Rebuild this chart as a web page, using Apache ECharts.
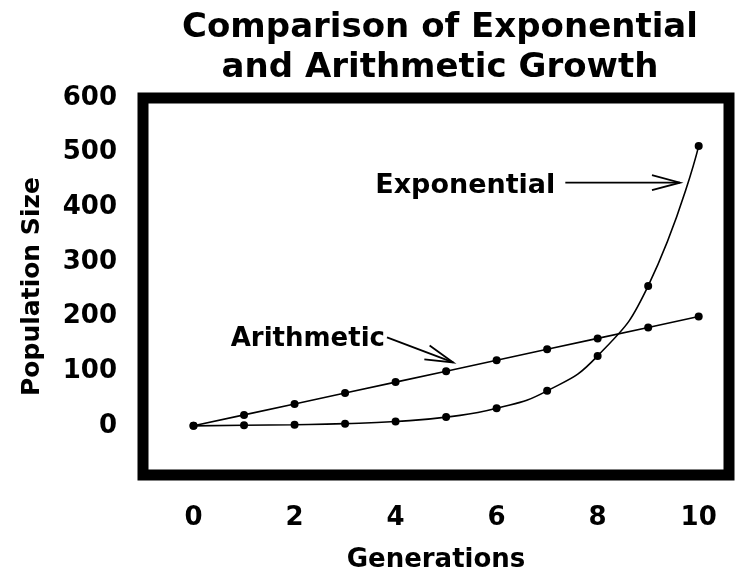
<!DOCTYPE html>
<html>
<head>
<meta charset="utf-8">
<script src="https://cdn.jsdelivr.net/npm/echarts@6/dist/echarts.min.js"></script>
<style>html,body{margin:0;padding:0;background:#fff}#c{width:740px;height:578px}</style>
</head>
<body>
<div id="c"></div>
<script>
var generations = [0,1,2,3,4,5,6,7,8,9,10];
var exponential = [0,1,2,4,8,16,32,64,128,256,512];
var arithmetic = [0,20,40,60,80,100,120,140,160,180,200];
var xTicks = [0,2,4,6,8,10];
var yTicks = [0,100,200,300,400,500,600];
// annotation anchors in data space: arrow start, arrow tip
var expoArrow = [[7.36,445],[9.63,445]];
var arithArrow = [[3.83,162],[5.14,116]];

var F = '"DejaVu Sans", sans-serif';
var chart = echarts.init(document.getElementById('c'), null, {renderer:'canvas'});
function pairs(xs, ys){ return xs.map(function(x,i){return [x, ys[i]];}); }

chart.setOption({
  animation:false,
  title:{
    text:'Comparison of Exponential\nand Arithmetic Growth',
    left:440, top:8, textAlign:'center', padding:0,
    textStyle:{fontFamily:F, fontWeight:'bold', fontSize:34, lineHeight:40, color:'#000'}
  },
  grid:{left:143, right:11, top:98, bottom:102, show:true, borderWidth:11, borderColor:'#000', backgroundColor:'transparent'},
  xAxis:{
    type:'value', min:-1, max:10.6,
    name:'Generations', nameLocation:'middle', nameGap:72,
    nameTextStyle:{fontFamily:F, fontWeight:'bold', fontSize:26, color:'#000'},
    axisLine:{show:false}, axisTick:{show:false}, splitLine:{show:false},
    axisLabel:{customValues:xTicks, margin:30, fontFamily:F, fontWeight:'bold', fontSize:26, color:'#000'}
  },
  yAxis:{
    type:'value', min:-90, max:600,
    name:'Population Size', nameLocation:'middle', nameGap:98, nameRotate:90,
    nameTextStyle:{fontFamily:F, fontWeight:'bold', fontSize:25, color:'#000'},
    axisLine:{show:false}, axisTick:{show:false}, splitLine:{show:false},
    axisLabel:{customValues:yTicks, margin:26, fontFamily:F, fontWeight:'bold', fontSize:26, color:'#000'}
  },
  series:[
    {name:'Exponential', type:'line', data:pairs(generations, exponential), smooth:0.5,
     symbol:'circle', symbolSize:8, itemStyle:{color:'#000'}, lineStyle:{color:'#000', width:1.6}},
    {name:'Arithmetic', type:'line', data:pairs(generations, arithmetic),
     symbol:'circle', symbolSize:8, itemStyle:{color:'#000'}, lineStyle:{color:'#000', width:1.6}}
  ]
});

function px(p){ return chart.convertToPixel({gridIndex:0}, p); }
function arrow(a){
  var s = px(a[0]), e = px(a[1]);
  var ang = Math.atan2(e[1]-s[1], e[0]-s[0]);
  var L = 29, w = 0.26;
  var w1 = [e[0]-L*Math.cos(ang-w), e[1]-L*Math.sin(ang-w)];
  var w2 = [e[0]-L*Math.cos(ang+w), e[1]-L*Math.sin(ang+w)];
  return [
    {type:'line', shape:{x1:s[0],y1:s[1],x2:e[0],y2:e[1]}, style:{stroke:'#000', lineWidth:1.8}},
    {type:'polyline', shape:{points:[w1,e,w2]}, style:{stroke:'#000', lineWidth:1.8, fill:null}}
  ];
}
var es = px(expoArrow[0]), as = px(arithArrow[0]);
var g = [].concat(arrow(expoArrow), arrow(arithArrow), [
  {type:'text', x:es[0]-10, y:es[1]+3, style:{text:'Exponential', fontFamily:F, fontWeight:'bold', fontSize:27, fill:'#000', align:'right', verticalAlign:'middle'}},
  {type:'text', x:as[0]-2, y:as[1]+2, style:{text:'Arithmetic', fontFamily:F, fontWeight:'bold', fontSize:26, fill:'#000', align:'right', verticalAlign:'middle'}}
]);
chart.setOption({graphic:g});
</script>
</body>
</html>
